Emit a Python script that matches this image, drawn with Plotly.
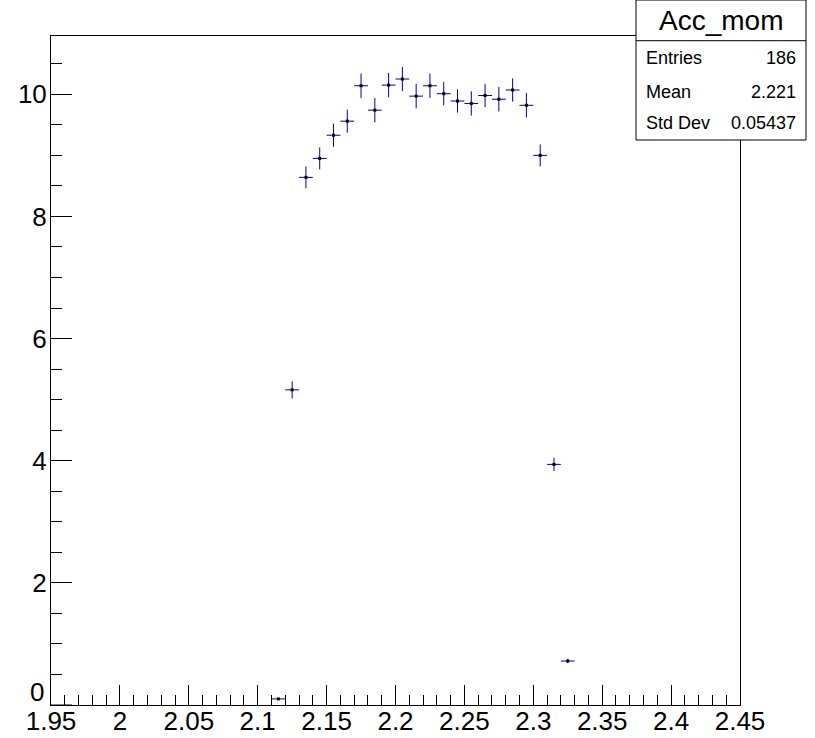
import plotly.graph_objects as go

# ---- data ----
bin_centers = [2.115, 2.125, 2.135, 2.145, 2.155, 2.165, 2.175, 2.185, 2.195, 2.205,
               2.215, 2.225, 2.235, 2.245, 2.255, 2.265, 2.275, 2.285, 2.295, 2.305,
               2.315, 2.325]
bin_values = [0.10, 5.16, 8.64, 8.95, 9.33, 9.56, 10.14, 9.74, 10.15, 10.25,
              9.97, 10.14, 10.01, 9.89, 9.85, 9.98, 9.92, 10.07, 9.82, 9.00,
              3.94, 0.72]
bin_errors = [0.01, 0.14, 0.18, 0.18, 0.19, 0.19, 0.20, 0.20, 0.20, 0.20,
              0.20, 0.20, 0.19, 0.19, 0.20, 0.19, 0.20, 0.19, 0.20, 0.18,
              0.11, 0.035]
bin_half_widths = [0.005] * len(bin_centers)

x_tick_vals = [1.95, 2.0, 2.05, 2.1, 2.15, 2.2, 2.25, 2.3, 2.35, 2.4, 2.45]
x_tick_text = ["1.95", "2", "2.05", "2.1", "2.15", "2.2", "2.25", "2.3", "2.35", "2.4", "2.45"]
y_tick_vals = [0, 2, 4, 6, 8, 10]
y_tick_text = ["0", "2", "4", "6", "8", "10"]

stats_title = "Acc_mom"
stats_labels = ["Entries", "Mean", "Std Dev"]
stats_values = ["186", "2.221", "0.05437"]

# ---- layout geometry (pixels) ----
W, H = 815, 738
L, R, T, B = 51, 740, 36, 705
FONT = "Liberation Sans, Arial, Helvetica, sans-serif"
TICK_SIZE = 26


def px_x(p):
    return (p - L) / (R - L)


def px_y(p):
    return (B - p) / (B - T)


fig = go.Figure()
fig.add_trace(go.Scatter(
    x=bin_centers, y=bin_values, mode="markers",
    marker=dict(symbol="square", size=3, color="black", line=dict(width=0)),
    error_y=dict(type="data", array=bin_errors, visible=True, color="#000099",
                 thickness=1, width=0),
    error_x=dict(type="data", array=bin_half_widths, visible=True, color="#000099",
                 thickness=1, width=0),
    showlegend=False, hoverinfo="x+y",
))

fig.update_layout(
    width=W, height=H,
    margin=dict(l=L, r=W - R, t=T, b=H - B, pad=0, autoexpand=False),
    paper_bgcolor="white", plot_bgcolor="white",
    font=dict(family=FONT, color="black"),
    xaxis=dict(
        range=[1.95, 2.45], showgrid=False, zeroline=False, automargin=False,
        showline=True, linecolor="black", linewidth=1, mirror=True,
        ticks="inside", ticklen=20, tickwidth=1, tickcolor="black",
        tickvals=x_tick_vals, ticktext=x_tick_text, ticklabelstandoff=-7,
        tickfont=dict(size=TICK_SIZE, family=FONT, color="black"),
        minor=dict(ticks="inside", ticklen=10, tickwidth=1, tickcolor="black",
                   dtick=0.01, tick0=1.95, showgrid=False),
    ),
    yaxis=dict(
        range=[0, (B - T) / 61.07], showgrid=False, zeroline=False, automargin=False,
        showline=True, linecolor="black", linewidth=1, mirror=True,
        ticks="inside", ticklen=21, tickwidth=1, tickcolor="black",
        tickvals=y_tick_vals[1:], ticktext=y_tick_text[1:], ticklabelstandoff=-2,
        tickfont=dict(size=TICK_SIZE, family=FONT, color="black"),
        minor=dict(ticks="inside", ticklen=11, tickwidth=1, tickcolor="black",
                   dtick=0.5, tick0=0, showgrid=False),
    ),
)
# major tick at 0 (its label is raised above the axis, as ROOT draws it)
fig.add_shape(type="line", xref="paper", yref="y", x0=0, x1=px_x(L + 21),
              y0=y_tick_vals[0], y1=y_tick_vals[0], line=dict(color="black", width=1))
fig.add_annotation(xref="paper", yref="paper", x=px_x(46), y=px_y(692),
                   text=y_tick_text[0], showarrow=False, xanchor="right", yanchor="middle",
                   font=dict(size=TICK_SIZE, family=FONT, color="black"))

# ---- stats box ----
bx0, bx1, by0, by1, bsep = 636, 806, 0, 140, 40.7
fig.add_shape(type="rect", xref="paper", yref="paper",
              x0=px_x(bx0), x1=px_x(bx1), y0=px_y(by1), y1=px_y(by0),
              line=dict(color="black", width=1), fillcolor="white", layer="above")
fig.add_shape(type="line", xref="paper", yref="paper",
              x0=px_x(bx0), x1=px_x(bx1), y0=px_y(bsep), y1=px_y(bsep),
              line=dict(color="black", width=1), layer="above")
fig.add_annotation(xref="paper", yref="paper", x=px_x((bx0 + bx1) / 2), y=px_y(20),
                   text=stats_title, showarrow=False, xanchor="center", yanchor="middle",
                   font=dict(size=28, family=FONT, color="black"))
row_y = [58, 92, 123]
for lab, val, ry in zip(stats_labels, stats_values, row_y):
    fig.add_annotation(xref="paper", yref="paper", x=px_x(644), y=px_y(ry), text=lab,
                       showarrow=False, xanchor="left", yanchor="middle",
                       font=dict(size=18, family=FONT, color="black"))
    fig.add_annotation(xref="paper", yref="paper", x=px_x(798), y=px_y(ry), text=val,
                       showarrow=False, xanchor="right", yanchor="middle",
                       font=dict(size=18, family=FONT, color="black"))

fig.write_html("out.html", config={"displayModeBar": False},
               post_script="document.body.style.margin='0';")
